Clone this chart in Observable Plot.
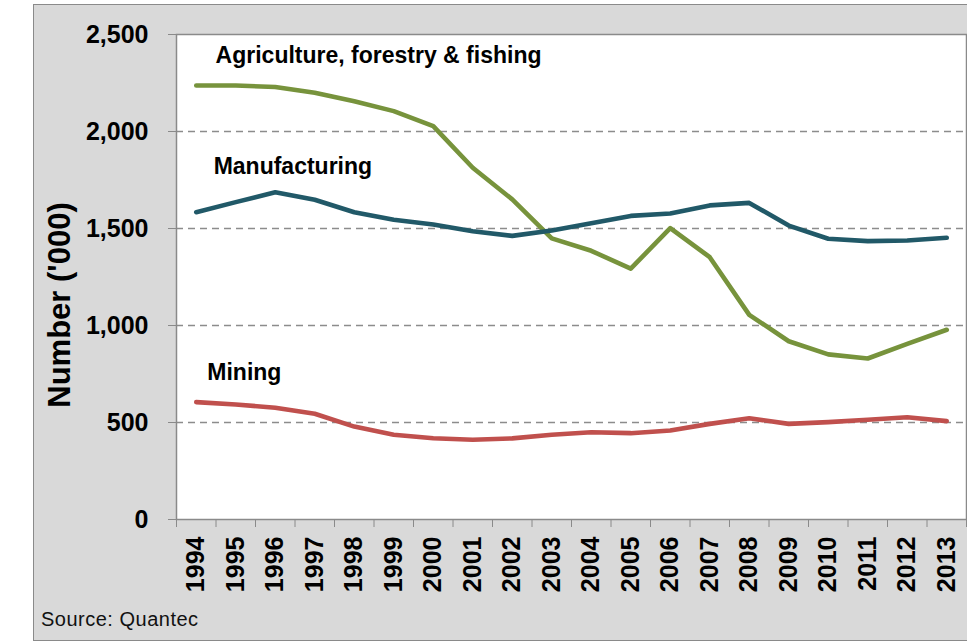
<!DOCTYPE html>
<html>
<head>
<meta charset="utf-8">
<script src="https://cdn.jsdelivr.net/npm/d3@7"></script>
<script src="https://cdn.jsdelivr.net/npm/@observablehq/plot@0.6"></script>
<style>
  html, body { margin: 0; padding: 0; background: #ffffff; overflow: hidden; }
  #wrap { position: relative; width: 967px; height: 644px; overflow: hidden; }
  #panel { position: absolute; left: 33px; top: 4px; width: 960px; height: 637px;
           background: #d9d9d9; border: 1.5px solid #8a8a8a; box-sizing: border-box; }
  #chart { position: absolute; left: 0; top: 0; }
  #ytitle { position: absolute; left: 60px; top: 305px; transform: translate(-50%, -50%) rotate(-90deg);
            font: bold 31px "Liberation Sans", Arial, sans-serif; white-space: nowrap; color: #000; }
  #source { position: absolute; left: 41px; top: 609px; font: 20px "Liberation Sans", Arial, sans-serif;
            line-height: 1; letter-spacing: 0.5px; color: #111; }
</style>
</head>
<body>
<div id="wrap">
  <div id="panel"></div>
  <div id="chart"></div>
  <div id="ytitle">Number ('000)</div>
  <div id="source">Source: Quantec</div>
</div>
<script>
const years = [1994, 1995, 1996, 1997, 1998, 1999, 2000, 2001, 2002, 2003, 2004, 2005, 2006, 2007, 2008, 2009, 2010, 2011, 2012, 2013];
const agriculture = [2237, 2237, 2229, 2200, 2156, 2105, 2028, 1813, 1650, 1449, 1385, 1293, 1502, 1352, 1055, 919, 851, 830, 905, 978];
const manufacturing = [1584, 1636, 1687, 1648, 1584, 1545, 1521, 1486, 1462, 1490, 1527, 1565, 1577, 1619, 1632, 1515, 1447, 1435, 1438, 1452];
const mining = [605, 593, 576, 545, 479, 437, 419, 411, 418, 437, 450, 445, 459, 493, 522, 493, 502, 514, 527, 507];
const yTicks = [0, 500, 1000, 1500, 2000, 2500];
const gridValues = [500, 1000, 1500, 2000];

const seriesNames = ["Agriculture, forestry & fishing", "Manufacturing", "Mining"];
const seriesColors = ["#77933c", "#215968", "#c0504d"];
const labelYears = [1994.49, 1994.44, 1994.28];
const labelValues = [2389, 1821, 758];

const seriesValues = [agriculture, manufacturing, mining];
const rows = [];
seriesNames.forEach((name, i) => {
  years.forEach((yr, j) => rows.push({series: name, year: yr, value: seriesValues[i][j]}));
});
const labels = seriesNames.map((name, i) => ({text: name, year: labelYears[i], value: labelValues[i]}));
const boundaries = years.map(y => y - 0.5).concat([years[years.length - 1] + 0.5]);

const font = "Liberation Sans, Arial, sans-serif";

const chart = Plot.plot({
  width: 967,
  height: 644,
  marginLeft: 176,
  marginRight: 1,
  marginTop: 34,
  marginBottom: 125,
  style: {background: "transparent", color: "#000", fontFamily: font, overflow: "visible"},
  x: {type: "linear", domain: [years[0] - 0.5, years[years.length - 1] + 0.5]},
  y: {domain: [0, 2500]},
  color: {domain: seriesNames, range: seriesColors},
  marks: [
    Plot.frame({fill: "white", stroke: null}),
    Plot.gridY(gridValues, {stroke: "#8c8c8c", strokeOpacity: 1, strokeWidth: 1.3, strokeDasharray: "7,5"}),
    Plot.line(rows, {x: "year", y: "value", z: "series", stroke: "series", strokeWidth: 4.6, curve: "linear"}),
    Plot.frame({stroke: "#8a8a8a", strokeWidth: 1.5}),
    Plot.axisY({ticks: yTicks, tickSize: 8, tickPadding: 20, tickFormat: d3.format(","), stroke: "#8a8a8a",
                fontSize: 25, fontWeight: "bold", label: null}),
    Plot.axisX({ticks: boundaries, tickSize: 8, tickFormat: () => "", stroke: "#8a8a8a", label: null}),
    Plot.axisX({ticks: years, tickSize: 0, tickPadding: 17, tickRotate: -90, tickFormat: d => String(d),
                fontSize: 25, fontWeight: "bold", label: null}),
    Plot.text(labels, {x: "year", y: "value", text: "text", textAnchor: "start", lineAnchor: "middle",
                       fontSize: 23, fontWeight: "bold", fill: "#000"})
  ]
});
document.getElementById("chart").appendChild(chart);
</script>
</body>
</html>
